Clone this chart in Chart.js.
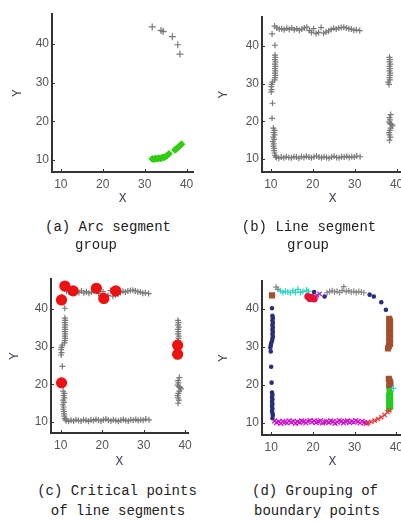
<!DOCTYPE html>
<html>
<head>
<meta charset="utf-8">
<script src="https://cdn.jsdelivr.net/npm/chart.js@4.4.1/dist/chart.umd.min.js"></script>
<style>
body{margin:0;width:401px;height:524px;overflow:hidden;background:#fff;position:relative;}
canvas{position:absolute;}
.cap{position:absolute;width:240px;text-align:center;font:14px 'Liberation Mono',monospace;color:#222;white-space:nowrap;line-height:18px;}
</style>
</head>
<body>
<canvas id="chartA" width="200" height="206" style="left:0;top:0"></canvas>
<canvas id="chartB" width="200" height="206" style="left:210px;top:0"></canvas>
<canvas id="chartC" width="200" height="219" style="left:0;top:250px"></canvas>
<canvas id="chartD" width="200" height="219" style="left:210px;top:250px"></canvas>

<div class="cap" style="left:-12px;top:218px">(a) Arc segment</div>
<div class="cap" style="left:-24px;top:236px">group</div>
<div class="cap" style="left:189px;top:218px">(b) Line segment</div>
<div class="cap" style="left:188px;top:236px">group</div>
<div class="cap" style="left:-3px;top:482px">(c) Critical points</div>
<div class="cap" style="left:-2px;top:502px">of line segments</div>
<div class="cap" style="left:195px;top:482px">(d) Grouping of</div>
<div class="cap" style="left:197px;top:502px">boundary points</div>

<script>
const tickValues = [10, 20, 30, 40];

// (a) arc segment group
const arcGrayX = [31.8, 33.9, 34.4, 36.6, 37.9, 38.4];
const arcGrayY = [44.4, 43.5, 43.2, 41.9, 39.8, 37.4];
const arcGreenX = [31.8, 32.2, 32.6, 33.0, 33.4, 33.8, 34.2, 34.6, 35.0, 35.4, 35.8, 37.2, 37.6, 38.0, 38.4, 38.8];
const arcGreenY = [10.3, 10.2, 10.4, 10.3, 10.5, 10.4, 10.6, 10.7, 10.9, 11.2, 11.6, 12.6, 12.9, 13.3, 13.7, 14.1];

// (b)/(c) line segment points
const topX = [10.3, 10.9, 11.4, 12.0, 12.6, 13.2, 13.8, 14.4, 15.0, 15.6, 16.2, 16.8, 17.4, 18.0, 18.6, 19.2, 19.7, 20.2, 20.8, 21.4, 22.0, 22.6, 23.2, 23.8, 24.4, 25.0, 25.6, 26.2, 26.8, 27.4, 28.0, 28.6, 29.2, 29.8, 30.4, 31.2];
const topY = [43.2, 45.3, 44.8, 44.5, 44.6, 44.3, 44.7, 44.4, 44.8, 44.3, 44.6, 44.2, 44.5, 44.8, 45.0, 44.1, 43.6, 44.6, 43.3, 43.6, 44.9, 43.4, 43.7, 44.0, 44.4, 44.7, 44.5, 44.8, 44.9, 45.0, 44.8, 44.6, 44.5, 44.2, 44.3, 44.1];
const leftX = [11.0, 11.0, 11.1, 11.0, 11.1, 11.0, 11.1, 11.0, 11.1, 11.0, 11.1, 11.0, 10.9, 10.4, 10.2, 10.1, 10.2, 10.1, 10.4, 10.3, 10.6, 10.9, 10.7, 10.9, 10.6, 10.8, 10.5, 10.7, 10.6, 10.8, 10.8, 10.9, 11.0, 11.2];
const leftY = [40.2, 37.6, 37.0, 36.4, 35.8, 35.2, 34.6, 34.0, 33.4, 32.8, 32.2, 31.6, 31.0, 30.4, 29.8, 29.2, 28.4, 27.8, 24.8, 20.8, 18.2, 17.6, 17.0, 16.4, 15.8, 15.2, 14.6, 14.0, 13.4, 12.8, 12.2, 11.6, 11.0, 10.6];
const bottomX = [11.3, 11.9, 12.5, 13.1, 13.7, 14.3, 14.9, 15.5, 16.1, 16.7, 17.3, 17.9, 18.5, 19.1, 19.7, 20.3, 20.9, 21.5, 22.1, 22.7, 23.3, 23.9, 24.5, 25.1, 25.7, 26.3, 26.9, 27.5, 28.1, 28.7, 29.3, 29.9, 30.5, 31.3];
const bottomY = [10.4, 10.2, 10.5, 10.3, 10.6, 10.4, 10.3, 10.6, 10.5, 10.2, 10.6, 10.4, 10.7, 10.5, 10.3, 10.6, 10.8, 10.5, 10.3, 10.6, 10.4, 10.2, 10.5, 10.7, 10.4, 10.3, 10.6, 10.5, 10.7, 10.4, 10.6, 10.5, 10.8, 10.6];
const rightX = [38.3, 38.4, 38.3, 38.5, 38.3, 38.4, 38.3, 38.5, 38.4, 38.3, 38.4, 38.0, 38.2, 38.6, 38.3, 38.4, 38.2, 38.5, 38.8, 39.0, 38.6, 38.4, 38.2, 38.3, 38.5, 38.3];
const rightY = [37.0, 36.4, 35.8, 35.2, 34.6, 34.0, 33.4, 32.8, 32.2, 31.6, 31.0, 30.4, 29.8, 21.8, 21.0, 20.4, 19.8, 19.4, 19.2, 18.8, 18.2, 17.6, 17.0, 16.4, 15.8, 15.0];

// (c) critical points
const critX = [10.2, 11.0, 13.0, 18.6, 20.4, 23.3, 38.2, 38.2, 10.2];
const critY = [42.4, 46.1, 44.8, 45.5, 42.8, 44.8, 30.4, 28.0, 20.4];

// (d) groups of boundary points
const navyX = [10.2, 10.3, 10.4, 10.3, 10.4, 10.3, 10.4, 10.3, 10.4, 10.3, 10.4, 10.3, 10.2, 10.0, 9.9, 9.8, 9.9, 10.0, 10.1, 10.2, 10.3, 10.2, 10.3, 10.2, 10.3, 10.2, 10.3, 10.2, 10.3, 10.4, 10.3, 33.6, 34.6, 36.4, 37.5, 20.3, 22.8];
const navyY = [40.2, 38.2, 37.6, 37.0, 36.4, 35.8, 35.2, 34.6, 34.0, 33.4, 32.8, 32.2, 31.6, 31.0, 30.4, 29.8, 28.8, 24.8, 20.6, 18.0, 17.4, 16.8, 16.2, 15.6, 15.0, 14.4, 13.8, 13.2, 12.6, 12.0, 11.2, 43.8, 43.3, 41.8, 39.8, 44.5, 43.3];
const magentaX = [10.8, 11.3, 11.8, 12.3, 12.8, 13.3, 13.8, 14.3, 14.8, 15.3, 15.8, 16.3, 16.8, 17.3, 17.8, 18.3, 18.8, 19.3, 19.8, 20.3, 20.8, 21.3, 21.8, 22.3, 22.8, 23.3, 23.8, 24.3, 24.8, 25.3, 25.8, 26.3, 26.8, 27.3, 27.8, 28.3, 28.8, 29.3, 29.8, 30.3, 30.8, 31.3, 31.8, 32.3, 32.8];
const magentaY = [10.5, 10.1, 10.3, 9.9, 10.4, 10.2, 10.0, 10.5, 10.2, 10.4, 9.9, 10.3, 10.1, 10.5, 10.3, 10.0, 10.4, 10.6, 10.2, 10.5, 10.1, 10.3, 10.6, 10.0, 10.2, 10.4, 10.1, 10.5, 10.3, 9.9, 10.2, 10.6, 10.4, 10.0, 10.3, 10.5, 10.1, 10.4, 10.2, 10.6, 10.3, 10.0, 10.4, 10.1, 9.9];
const redXX = [33.2, 34.0, 34.8, 35.6, 36.4, 37.2, 37.9, 38.3];
const redXY = [10.0, 10.3, 10.6, 11.0, 11.5, 12.1, 12.8, 13.3];
const greenX = [38.2, 38.6, 38.2, 38.6, 38.2, 38.6, 38.2, 38.6, 38.3];
const greenY = [13.6, 14.2, 14.8, 15.4, 16.0, 16.6, 17.2, 17.8, 18.4];
const brownX = [38.3, 38.5, 38.3, 38.5, 38.3, 38.5, 38.3, 38.5, 38.3, 38.5, 38.3, 38.5, 38.2, 38.0, 38.2, 38.4, 38.6, 38.3, 10.2];
const brownY = [37.4, 36.8, 36.2, 35.6, 35.0, 34.4, 33.8, 33.2, 32.6, 32.0, 31.4, 30.8, 30.2, 29.6, 21.6, 21.0, 20.4, 19.8, 43.6];
const cyanX = [12.2, 12.8, 13.4, 14.0, 14.6, 15.2, 15.8, 16.4, 17.0, 17.6, 18.5, 18.9, 39.3];
const cyanY = [44.8, 44.4, 44.7, 44.5, 44.3, 44.9, 44.4, 45.2, 44.4, 44.6, 45.0, 44.6, 19.1];
const crimsonX = [18.8, 19.3, 19.8, 20.3];
const crimsonY = [43.3, 42.8, 43.1, 42.7];
const violetX = [21.0, 21.6];
const violetY = [43.6, 44.0];
const grayDX = [11.2, 11.6, 23.4, 24.0, 24.6, 25.2, 25.8, 26.4, 27.0, 27.4, 28.0, 28.6, 29.2, 29.8, 30.4, 31.0, 31.6, 32.2];
const grayDY = [45.8, 45.2, 44.3, 44.6, 44.8, 44.5, 44.7, 44.4, 44.9, 45.9, 44.6, 44.8, 44.5, 44.7, 44.4, 44.6, 44.5, 44.3];

const pts = (xs, ys) => xs.map((x, i) => ({ x: x, y: ys[i] }));

function marks(xs, ys, style, color, radius) {
    return {
        data: pts(xs, ys),
        pointStyle: style,
        pointRadius: radius,
        pointBorderColor: color,
        pointBackgroundColor: color,
        pointBorderWidth: 1.2,
        showLine: false
    };
}

const grayLines = () => [
    marks(topX, topY, 'cross', '#7a7a7a', 3),
    marks(leftX, leftY, 'cross', '#7a7a7a', 3),
    marks(bottomX, bottomY, 'cross', '#7a7a7a', 3),
    marks(rightX, rightY, 'cross', '#7a7a7a', 3)
];

// inward tick marks on both axes, like the original plots
const innerTicks = {
    id: 'innerTicks',
    afterDraw(chart) {
        const { ctx, chartArea, scales } = chart;
        ctx.save();
        ctx.strokeStyle = '#333';
        ctx.lineWidth = 1;
        ctx.beginPath();
        tickValues.forEach(v => {
            const px = Math.round(scales.x.getPixelForValue(v)) + 0.5;
            if (px < chartArea.right) { ctx.moveTo(px, chartArea.bottom); ctx.lineTo(px, chartArea.bottom - 3); }
            const py = Math.round(scales.y.getPixelForValue(v)) + 0.5;
            ctx.moveTo(chartArea.left, py); ctx.lineTo(chartArea.left + 3, py);
        });
        ctx.stroke();
        ctx.restore();
    }
};

function makePanel(id, datasets, cfg) {
    new Chart(document.getElementById(id), {
        type: 'scatter',
        data: { datasets: datasets },
        plugins: [innerTicks],
        options: {
            responsive: false,
            animation: false,
            layout: { padding: cfg.pad },
            plugins: { legend: { display: false }, tooltip: { enabled: false } },
            scales: {
                x: {
                    min: cfg.x[0], max: cfg.x[1],
                    afterBuildTicks: s => { s.ticks = tickValues.map(v => ({ value: v })); },
                    afterFit: s => { s.height = cfg.xh; },
                    grid: { drawOnChartArea: false, drawTicks: false },
                    border: { color: '#333', width: 2 },
                    ticks: { padding: 5, maxRotation: 0, color: '#555', font: { family: 'Liberation Sans', size: 12 } },
                    title: { display: true, text: 'X', color: '#445', padding: 0, font: { family: 'Liberation Mono', size: 13 } }
                },
                y: {
                    min: cfg.y[0], max: cfg.y[1],
                    afterBuildTicks: s => { s.ticks = tickValues.map(v => ({ value: v })); },
                    afterFit: s => { s.width = cfg.yw; },
                    grid: { drawOnChartArea: false, drawTicks: false },
                    border: { color: '#333', width: 2 },
                    ticks: { padding: 3, color: '#555', font: { family: 'Liberation Sans', size: 12 } },
                    title: { display: true, text: 'Y', color: '#445', padding: { top: cfg.yt, bottom: 0 }, font: { family: 'Liberation Mono', size: 13 } }
                }
            }
        }
    });
}

makePanel('chartA', [
    marks(arcGreenX, arcGreenY, 'rectRot', '#33cc11', 3),
    marks(arcGrayX, arcGrayY, 'cross', '#7a7a7a', 3.5)
], { x: [7.9, 41.6], y: [6.9, 47.75], pad: { top: 14, right: 6.7, left: 0, bottom: 0 }, xh: 34, yw: 52, yt: 10 });

makePanel('chartB', grayLines(),
    { x: [7.9, 41.6], y: [6.55, 47.7], pad: { top: 17, right: 6.7, left: 0, bottom: 0 }, xh: 34, yw: 52, yt: 6 });

makePanel('chartC', [marks(critX, critY, 'circle', '#ee1111', 5)].concat(grayLines()),
    { x: [7.66, 40.7], y: [7.1, 47.96], pad: { top: 29, right: 12, left: 0, bottom: 0 }, xh: 36, yw: 51, yt: 7 });

makePanel('chartD', [
    marks(crimsonX, crimsonY, 'circle', '#e8103a', 3),
    marks(violetX, violetY, 'crossRot', '#8a3cc0', 3),
    marks(cyanX, cyanY, 'cross', '#2dd4c0', 3),
    marks(redXX, redXY, 'crossRot', '#ee3333', 3),
    marks(greenX, greenY, 'rect', '#22cc22', 3),
    marks(brownX, brownY, 'rect', '#a0522d', 3.5),
    marks(navyX, navyY, 'circle', '#2b2d7e', 1.7),
    marks(magentaX, magentaY, 'crossRot', '#cc11cc', 3.5),
    marks(grayDX, grayDY, 'cross', '#888888', 3)
], { x: [7.8, 41.6], y: [6.8, 47.4], pad: { top: 31, right: 7, left: 0, bottom: 0 }, xh: 34, yw: 52, yt: 6 });
</script>
</body>
</html>
